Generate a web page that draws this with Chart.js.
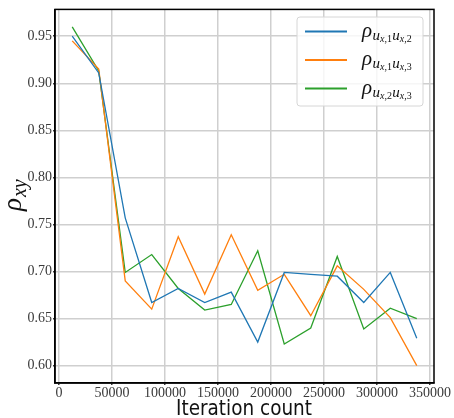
<!DOCTYPE html>
<html>
<head>
<meta charset="utf-8">
<script src="https://cdn.jsdelivr.net/npm/chart.js@4/dist/chart.umd.min.js"></script>
<style>
  html, body { margin: 0; padding: 0; background: #fff; }
  canvas { display: block; }
</style>
</head>
<body>
<canvas id="c" width="454" height="418"></canvas>
<script>
// iteration count at each evaluation
const iterations = [12500, 37500, 62500, 87500, 112500, 137500, 162500, 187500, 212500, 237500, 262500, 287500, 312500, 337500];
// correlation coefficients between velocity components
const rho12 = [0.950, 0.911, 0.757, 0.667, 0.682, 0.667, 0.678, 0.625, 0.699, 0.697, 0.695, 0.667, 0.699, 0.629];
const rho13 = [0.945, 0.915, 0.690, 0.660, 0.737, 0.676, 0.739, 0.680, 0.697, 0.653, 0.706, 0.681, 0.651, 0.600];
const rho23 = [0.960, 0.913, 0.699, 0.718, 0.682, 0.659, 0.665, 0.722, 0.623, 0.640, 0.716, 0.639, 0.661, 0.650];
const seriesSubs = [['1', '2'], ['1', '3'], ['2', '3']];
const xTicks = [0, 50000, 100000, 150000, 200000, 250000, 300000, 350000];
const yTicks = [0.60, 0.65, 0.70, 0.75, 0.80, 0.85, 0.90, 0.95];

const BLUE = '#1f77b4', ORANGE = '#ff7f0e', GREEN = '#2ca02c';
const COLORS = [BLUE, ORANGE, GREEN];
const GRID = '#cfcfcf';
const TICK = '#3a3a3a';
const SERIF = '"Liberation Serif", "DejaVu Serif", serif';

const toPts = (ys) => iterations.map((x, i) => ({ x, y: ys[i] }));
const line = (ys, color) => ({
  data: toPts(ys), borderColor: color, backgroundColor: color,
  borderWidth: 1.3, pointRadius: 0, tension: 0, fill: false,
});

// box around the whole axes (matplotlib style spines)
const frame = {
  id: 'frame',
  afterDatasetsDraw(chart) {
    const { ctx, chartArea: a } = chart;
    ctx.save();
    ctx.strokeStyle = '#000';
    ctx.lineWidth = 1.5;
    ctx.strokeRect(a.left, a.top, a.right - a.left, a.bottom - a.top);
    ctx.restore();
  },
};

// rho with two-level subscripts: ρ_{u_{x,i} u_{x,j}}
function drawRho(ctx, x, y, a, b) {
  ctx.fillStyle = '#111';
  ctx.textBaseline = 'alphabetic';
  ctx.textAlign = 'left';
  ctx.font = 'italic 21px ' + SERIF;
  ctx.fillText('ρ', x, y);
  x += ctx.measureText('ρ').width + 0.5;
  for (const s of [a, b]) {
    ctx.font = 'italic 15px ' + SERIF;
    ctx.fillText('u', x, y + 3);
    x += ctx.measureText('u').width;
    ctx.font = 'italic 10px ' + SERIF;
    ctx.fillText('x', x, y + 5);
    x += ctx.measureText('x').width;
    ctx.font = '10px ' + SERIF;
    ctx.fillText(',' + s, x, y + 5);
    x += ctx.measureText(',' + s).width + 0.3;
  }
}

const labels = {
  id: 'labels',
  afterDraw(chart) {
    const { ctx } = chart;
    ctx.save();
    // x axis title, squeezed to a narrow sans width
    ctx.fillStyle = '#111';
    ctx.font = '21px "DejaVu Sans", sans-serif';
    ctx.textAlign = 'center';
    ctx.textBaseline = 'alphabetic';
    const title = 'Iteration count';
    const tw = ctx.measureText(title).width;
    ctx.save();
    ctx.translate(244, 415);
    ctx.scale(136 / tw, 1);
    ctx.fillText(title, 0, 0);
    ctx.restore();

    // y axis title, rotated
    ctx.save();
    ctx.translate(21, 211);
    ctx.rotate(-Math.PI / 2);
    ctx.textAlign = 'left';
    ctx.font = 'italic 27px ' + SERIF;
    ctx.fillText('ρ', 0, 0);
    const w = ctx.measureText('ρ').width;
    ctx.font = 'italic 20px ' + SERIF;
    ctx.fillText('xy', w + 1, 5);
    ctx.restore();

    // legend
    ctx.fillStyle = 'rgba(255,255,255,0.8)';
    ctx.strokeStyle = '#d6d6d6';
    ctx.lineWidth = 1;
    ctx.beginPath();
    ctx.roundRect(297, 17, 126, 89, 3);
    ctx.fill();
    ctx.stroke();
    const rows = [31.5, 60, 88.5];
    rows.forEach((ry, i) => {
      ctx.strokeStyle = COLORS[i];
      ctx.lineWidth = 1.8;
      ctx.beginPath();
      ctx.moveTo(305, ry);
      ctx.lineTo(347, ry);
      ctx.stroke();
      drawRho(ctx, 362, ry + 5, seriesSubs[i][0], seriesSubs[i][1]);
    });
    ctx.restore();
  },
};

new Chart(document.getElementById('c').getContext('2d'), {
  type: 'line',
  data: { datasets: [line(rho12, BLUE), line(rho13, ORANGE), line(rho23, GREEN)] },
  options: {
    responsive: false,
    animation: false,
    devicePixelRatio: 1,
    layout: { padding: { top: 6, right: 20, left: 0, bottom: 0 } },
    plugins: { legend: { display: false }, tooltip: { enabled: false } },
    scales: {
      x: {
        type: 'linear',
        min: -3750, max: 353750,
        afterBuildTicks: (s) => { s.ticks = xTicks.map((v) => ({ value: v })); },
        afterFit: (s) => { s.height = 35; },
        grid: { color: GRID, lineWidth: 1.5, tickLength: 2, tickColor: TICK },
        border: { display: true, color: '#000', width: 1.5 },
        ticks: { color: TICK, font: { family: SERIF, size: 14 }, padding: 0, maxRotation: 0, callback: (v) => String(v) },
      },
      y: {
        min: 0.5815, max: 0.9785,
        afterBuildTicks: (s) => { s.ticks = yTicks.map((v) => ({ value: v })); },
        afterFit: (s) => { s.width = 55; },
        grid: { color: GRID, lineWidth: 1.5, tickLength: 2, tickColor: TICK },
        border: { display: true, color: '#000', width: 1.5 },
        ticks: { color: TICK, font: { family: SERIF, size: 14 }, padding: 1, callback: (v) => v.toFixed(2) },
      },
    },
  },
  plugins: [frame, labels],
});
</script>
</body>
</html>
